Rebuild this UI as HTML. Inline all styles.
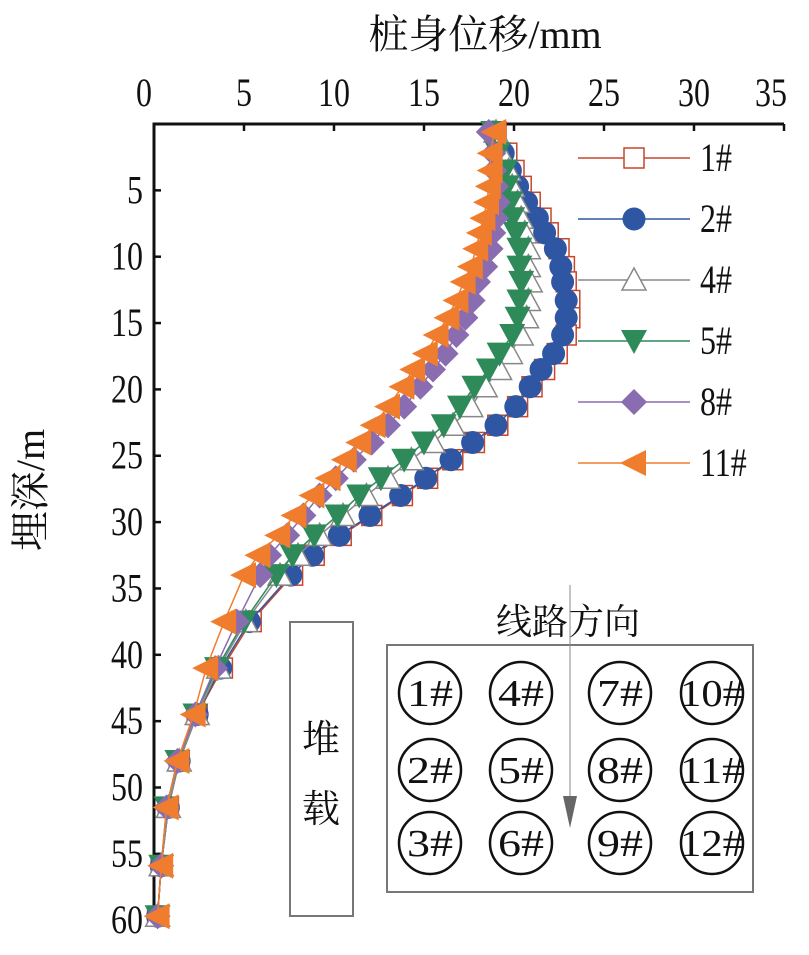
<!DOCTYPE html>
<html><head><meta charset="utf-8"><style>
body{margin:0;background:#fff}
svg text{font-family:"Liberation Serif","Noto Serif CJK SC",serif;fill:#111}
</style></head><body>
<svg id="c" width="809" height="950" viewBox="0 0 809 950" xmlns="http://www.w3.org/2000/svg">
<text x="485" y="48" font-size="40" text-anchor="middle">桩身位移/mm</text>
<text transform="translate(44,490) rotate(-90)" font-size="40" text-anchor="middle">埋深/m</text>
<g id="axes"></g><g id="series"></g><g id="legend"></g>
<rect x="290" y="622" width="63" height="294" fill="none" stroke="#777" stroke-width="2"/>
<text x="321" y="752" font-size="38" text-anchor="middle">堆</text>
<text x="321" y="822" font-size="38" text-anchor="middle">载</text>
<g id="inset">
<rect x="387" y="645" width="366" height="247" fill="none" stroke="#777" stroke-width="2"/>
<text x="568" y="634" font-size="36" text-anchor="middle">线路方向</text>
<line x1="570" y1="585" x2="570" y2="800" stroke="#888" stroke-width="1"/>
<polygon points="563,796 577,796 570,828" fill="#666"/>
</g>
</svg>
<script>
const xTicks=[0,5,10,15,20,25,30,35];
const yTicks=[5,10,15,20,25,30,35,40,45,50,55,60];
const depths=[0.6,2.2,3.5,4.7,5.9,7.1,8.2,9.4,10.75,11.9,13.3,14.6,15.9,17.3,18.5,19.8,21.3,22.7,24,25.3,26.7,28,29.5,31,32.5,34,37.5,41,44.5,48,51.5,55.9,59.7];
const s1=[19.0,19.6,20.0,20.4,20.9,21.5,21.9,22.5,22.8,22.9,23.1,23.1,22.9,22.4,21.7,21.0,20.2,19.1,17.8,16.6,15.2,13.8,12.1,10.4,8.9,7.7,5.4,3.8,2.4,1.4,0.8,0.4,0.2];
const s2=[18.85,19.4,19.8,20.2,20.7,21.3,21.7,22.3,22.6,22.7,22.9,22.9,22.7,22.2,21.5,20.9,20.1,19.0,17.7,16.5,15.1,13.7,12.0,10.3,8.8,7.6,5.3,3.7,2.4,1.4,0.8,0.4,0.2];
const s4=[19.0,19.3,19.7,19.9,20.2,20.4,20.6,20.8,20.8,20.9,20.8,20.7,20.4,19.8,19.2,18.4,17.6,16.6,15.5,14.3,13.0,11.8,10.5,9.2,8.0,7.0,5.1,3.6,2.4,1.4,0.8,0.4,0.2];
const s5=[18.85,19.1,19.5,19.6,19.8,19.9,20.1,20.3,20.3,20.4,20.3,20.2,19.9,19.2,18.6,17.8,17.0,16.1,15.0,13.9,12.6,11.4,10.2,8.9,7.7,6.8,5.0,3.5,2.3,1.3,0.7,0.4,0.2];
const s8=[18.6,18.85,18.9,19.0,19.1,19.0,18.85,18.7,18.4,18.0,17.7,17.3,16.8,16.2,15.5,14.8,13.9,13.0,12.1,11.1,10.1,9.2,8.3,7.4,6.4,5.9,4.6,3.4,2.3,1.3,0.7,0.4,0.2];
const s11=[18.9,18.7,18.7,18.6,18.5,18.3,18.1,17.9,17.6,17.2,16.8,16.3,15.7,15.1,14.4,13.8,13.0,12.2,11.4,10.6,9.7,8.8,7.8,6.9,5.8,5.0,3.9,2.9,2.2,1.3,0.7,0.4,0.2];
const names=["1#","2#","4#","5#","8#","11#"];
const pileLabels=[["1#","4#","7#","10#"],["2#","5#","8#","11#"],["3#","6#","9#","12#"]];
const NS="http://www.w3.org/2000/svg";
const X0=154,XS=18,Y0=124,YS=13.27,SQ=0.8;
function sx(v){return X0+v*XS}
function sy(d){return Y0+d*YS}
function mk(tag,attrs,parent){const e=document.createElementNS(NS,tag);for(const k in attrs)e.setAttribute(k,attrs[k]);parent.appendChild(e);return e}
function ntext(parent,x,y,size,anchor,str){const t=mk('text',{x:x/SQ,y:y,'font-size':size,'text-anchor':anchor,transform:`scale(${SQ},1)`},parent);t.textContent=str;return t}
const axes=document.getElementById('axes');
let l=mk('line',{x1:sx(0),y1:sy(0),x2:sx(35),y2:sy(0),stroke:'#111','stroke-width':3},axes);


l=mk('line',{x1:sx(0),y1:sy(0)-1.5,x2:sx(0),y2:sy(60)+1.5,stroke:'#111','stroke-width':3},axes);


l=mk('line',{x1:sx(0),y1:sy(60),x2:sx(0)+12,y2:sy(60),stroke:'#111','stroke-width':3},axes);


xTicks.forEach(v=>{
  const t=mk('line',{x1:sx(v),y1:sy(0),x2:sx(v),y2:sy(0)+7,stroke:'#111','stroke-width':2.5},axes);
  
  
  const tx=ntext(axes,sx(v)-(v===0?10:v===35?13:0),106,40,'middle',String(v));
  
  
});
yTicks.forEach(v=>{
  const t=mk('line',{x1:sx(0),y1:sy(v),x2:sx(0)+7,y2:sy(v),stroke:'#111','stroke-width':2.5},axes);
  
  
  const tx=ntext(axes,143,sy(v)+13,40,'end',String(v));
  
  
});
const styles=[
 {c:'#c8452c',m:'square',fill:'#fff'},
 {c:'#2e56a3',m:'circle',fill:'#2e56a3'},
 {c:'#888',m:'tri',fill:'#fff'},
 {c:'#2f8a5a',m:'tridown',fill:'#2f8a5a'},
 {c:'#8a6cb0',m:'diamond',fill:'#8a6cb0'},
 {c:'#f07d2e',m:'trileft',fill:'#f07d2e'}];
function marker(g,m,x,y,st){
  let e;
  if(m==='square')e=mk('rect',{x:x-10,y:y-10,width:20,height:20,fill:st.fill,stroke:st.c,'stroke-width':1.5},g);
  else if(m==='circle')e=mk('circle',{cx:x,cy:y,r:11.5,fill:st.fill},g);
  else if(m==='tri')e=mk('polygon',{points:`${x},${y-12} ${x-12},${y+10} ${x+12},${y+10}`,fill:st.fill,stroke:st.c,'stroke-width':1.5},g);
  else if(m==='tridown')e=mk('polygon',{points:`${x-13},${y-11} ${x+13},${y-11} ${x},${y+13}`,fill:st.fill},g);
  else if(m==='diamond')e=mk('polygon',{points:`${x},${y-13} ${x+13},${y} ${x},${y+13} ${x-13},${y}`,fill:st.fill},g);
  else e=mk('polygon',{points:`${x-14},${y} ${x+12},${y-13} ${x+12},${y+13}`,fill:st.fill},g);
  return e;
}
const data=[s1,s2,s4,s5,s8,s11];
const sg=document.getElementById('series');
data.forEach((s,i)=>{
  const st=styles[i];
  const g=mk('g',{},sg);
  
  
  const p=mk('polyline',{points:s.map((v,j)=>sx(v)+','+sy(depths[j])).join(' '),fill:'none',stroke:st.c,'stroke-width':1.5},g);
  
  
  s.forEach((v,j)=>{const e=marker(g,st.m,sx(v),sy(depths[j]),st);
    
    });
});
const lg=document.getElementById('legend');
names.forEach((n,i)=>{
  const y=158+i*61,st=styles[i];
  const g=mk('g',{},lg);
  
  
  mk('line',{x1:578,y1:y,x2:690,y2:y,stroke:st.c,'stroke-width':1.5},g);
  marker(g,st.m,634,y,st);
  ntext(g,700,y+13,40,'start',n);
});
const inset=document.getElementById('inset');
const cxs=[430,521,620,712],cys=[693,770,843];
pileLabels.forEach((row,r)=>row.forEach((lab,c)=>{
  const g=mk('g',{},inset);
  
  
  mk('circle',{cx:cxs[c],cy:cys[r],r:31,fill:'none',stroke:'#111','stroke-width':2.5},g);
  const t=mk('text',{x:cxs[c],y:cys[r]+13,'font-size':38,'text-anchor':'middle','textLength':lab.length>2?64:46,'lengthAdjust':'spacingAndGlyphs'},g);t.textContent=lab;
}));
</script>
</body></html>
